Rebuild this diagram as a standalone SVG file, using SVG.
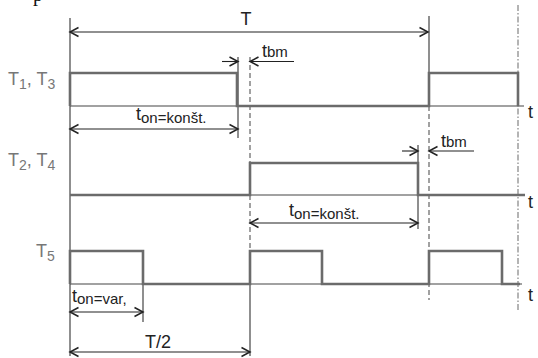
<svg xmlns="http://www.w3.org/2000/svg" width="538" height="358" viewBox="0 0 538 358">
<style>
.ax{stroke:#444;stroke-width:1.2;fill:none}
.wave{stroke:#6b6b6b;stroke-width:2.6;fill:none;stroke-linejoin:miter}
.thin{stroke:#333;stroke-width:1.1;fill:none}
.dash{stroke:#555;stroke-width:1.1;fill:none;stroke-dasharray:5 3}
.dashdot{stroke:#777;stroke-width:1.1;fill:none;stroke-dasharray:6 2 1.5 2}
.arr{stroke:#222;stroke-width:1.1;fill:none}
.lbl{font-family:"Liberation Sans",Arial,sans-serif;font-size:18px;fill:#777}
.txt{font-family:"Liberation Sans",Arial,sans-serif;font-size:18px;fill:#222}
.sub{font-size:14px}
.sub2{font-size:15px}
</style>
<defs>
<marker id="ah" viewBox="-10 -6 12 12" refX="0" refY="0" markerWidth="12" markerHeight="12" markerUnits="userSpaceOnUse" orient="auto-start-reverse">
<path d="M-8.5,-4.5 L0,0 L-8.5,4.5" fill="none" stroke="#222" stroke-width="1.5"/>
</marker>
</defs>
<rect width="538" height="358" fill="#fff"/>
<text x="33" y="0.5" font-family="Liberation Serif,serif" font-size="20" fill="#111">p</text>

<g id="grid">
<line class="thin" x1="70" y1="18" x2="70" y2="356"/>
<line class="thin" x1="429" y1="16" x2="429" y2="106"/>
<line class="dash" x1="429" y1="106" x2="429" y2="300"/>
<line class="dash" x1="250" y1="57" x2="250" y2="163"/>
<line class="dash" x1="250" y1="195" x2="250" y2="251"/>
<line class="thin" x1="250" y1="284" x2="250" y2="356"/>
<line class="dashdot" x1="518" y1="5" x2="518" y2="310"/>
<line class="thin" x1="238" y1="57" x2="238" y2="138"/>
<line class="thin" x1="418" y1="145" x2="418" y2="229"/>
<line class="thin" x1="143" y1="284" x2="143" y2="322"/>
</g>

<g id="T1T3">
<line class="ax" x1="70" y1="106" x2="524" y2="106"/>
<polyline class="wave" points="70,106 70,73 237,73 237,106 429,106 429,73 518,73 518,106"/>
<text class="lbl" x="8" y="85">T<tspan class="sub" dy="4">1</tspan><tspan dy="-4">, T</tspan><tspan class="sub" dy="4">3</tspan></text>
<text class="txt" x="528" y="118">t</text>
</g>

<g id="T2T4">
<line class="ax" x1="70" y1="195" x2="525" y2="195"/>
<polyline class="wave" points="70,195 250,195 250,163 418,163 418,195 525,195"/>
<text class="lbl" x="8" y="166">T<tspan class="sub" dy="4">2</tspan><tspan dy="-4">, T</tspan><tspan class="sub" dy="4">4</tspan></text>
<text class="txt" x="528" y="208">t</text>
</g>

<g id="T5">
<line class="ax" x1="70" y1="284" x2="522" y2="284"/>
<polyline class="wave" points="70,284 70,251 143,251 143,284 250,284 250,251 322,251 322,284 429,284 429,251 502,251 502,284 520,284"/>
<text class="lbl" x="36" y="257">T<tspan class="sub" dy="4">5</tspan></text>
<text class="txt" x="528" y="301">t</text>
</g>

<g id="connectors">
<line class="arr" x1="70" y1="32" x2="428" y2="32" marker-start="url(#ah)" marker-end="url(#ah)"/>
<line class="arr" x1="222" y1="61.5" x2="238" y2="61.5" marker-end="url(#ah)"/>
<line class="arr" x1="294" y1="61.5" x2="250" y2="61.5" marker-end="url(#ah)"/>
<line class="arr" x1="402" y1="151" x2="418" y2="151" marker-end="url(#ah)"/>
<line class="arr" x1="474" y1="151" x2="429" y2="151" marker-end="url(#ah)"/>
<line class="arr" x1="70" y1="129" x2="238" y2="129" marker-start="url(#ah)" marker-end="url(#ah)"/>
<line class="arr" x1="250" y1="223" x2="418" y2="223" marker-start="url(#ah)" marker-end="url(#ah)"/>
<line class="arr" x1="70" y1="312" x2="143" y2="312" marker-start="url(#ah)" marker-end="url(#ah)"/>
<line class="arr" x1="70" y1="352" x2="250" y2="352" marker-start="url(#ah)" marker-end="url(#ah)"/>
</g>

<g id="labels">
<text class="txt" x="246" y="25" text-anchor="middle" font-size="17">T</text>
<text class="txt" x="262" y="57">t<tspan class="sub2">bm</tspan></text>
<text class="txt" x="441" y="147">t<tspan class="sub2">bm</tspan></text>
<text class="txt" x="136" y="120">t<tspan class="sub2" dy="3">on=konšt.</tspan></text>
<text class="txt" x="289" y="216">t<tspan class="sub2" dy="3">on=konšt.</tspan></text>
<text class="txt" x="72" y="302">t<tspan class="sub2" dy="2">on=var,</tspan></text>
<text class="txt" x="158" y="348" text-anchor="middle">T/2</text>
</g>
</svg>
